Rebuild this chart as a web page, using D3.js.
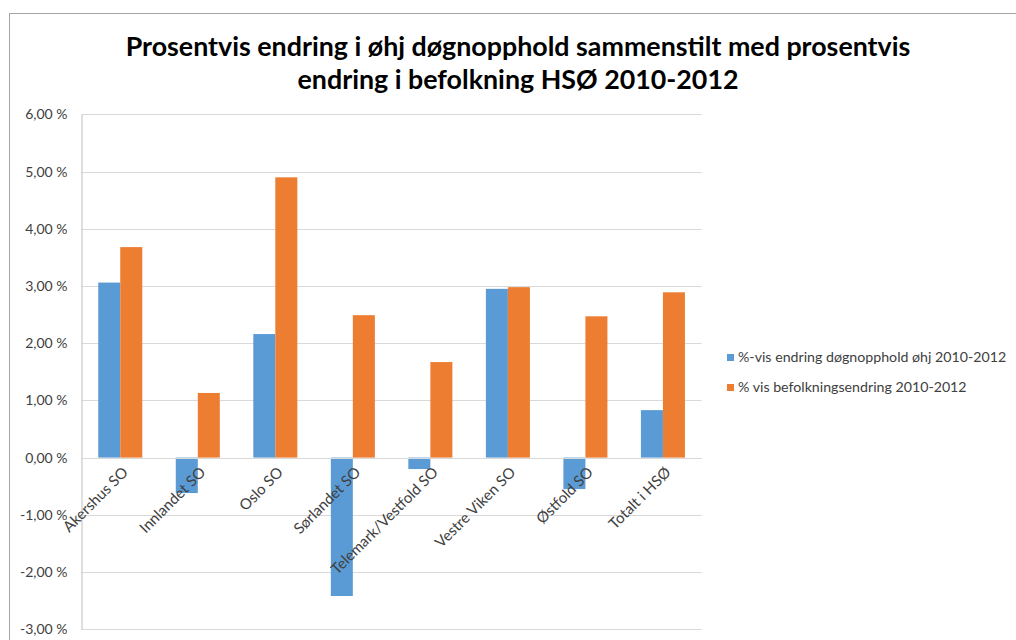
<!DOCTYPE html>
<html>
<head>
<meta charset="utf-8">
<script src="https://cdn.jsdelivr.net/npm/d3@7"></script>
<style>
  body { margin: 0; background: #fff; }
  #chart { width: 1016px; height: 640px; }
</style>
</head>
<body>
<div id="chart"></div>
<script>
var categories = ["Akershus SO", "Innlandet SO", "Oslo SO", "Sørlandet SO",
                  "Telemark/Vestfold SO", "Vestre Viken SO", "Østfold SO", "Totalt i HSØ"];
var seriesNames = ["%-vis endring døgnopphold øhj 2010-2012", "% vis befolkningsendring 2010-2012"];
var stayChange = [3.06, -0.62, 2.16, -2.42, -0.20, 2.95, -0.55, 0.83];
var popChange = [3.68, 1.13, 4.90, 2.49, 1.67, 2.98, 2.47, 2.89];
var yTicks = [-3, -2, -1, 0, 1, 2, 3, 4, 5, 6];
var titleLines = ["Prosentvis endring i øhj døgnopphold sammenstilt med prosentvis",
                  "endring i befolkning HSØ 2010-2012"];

function makeChart() {
  var width = 1016, height = 640;
  var colours = ["#5b9bd5", "#ed7d31"];
  var font = "Lato, 'Open Sans', sans-serif";

  var svg = d3.select("#chart").append("svg")
    .attr("width", width)
    .attr("height", height);

  // chart frame, only top and left edges are visible
  svg.append("rect")
    .attr("x", 9.5).attr("y", 13.5)
    .attr("width", 1100).attr("height", 700)
    .attr("fill", "white")
    .attr("stroke", "#a6a6a6");

  svg.selectAll("text.title")
    .data(titleLines)
    .enter()
    .append("text")
      .attr("class", "title")
      .attr("x", 518)
      .attr("y", function(d, i) { return 56 + i * 33; })
      .attr("text-anchor", "middle")
      .attr("font-family", font)
      .attr("font-weight", "bold")
      .attr("font-size", 26.8)
      .text(function(d) { return d; });

  var left = 81.5, right = 701.7, top = 114.4, bottom = 629.2;

  var y = d3.scaleLinear().domain([-3, 6]).range([bottom, top]);
  var x0 = d3.scaleBand().domain(categories).range([left, right])
    .paddingInner(0.432).paddingOuter(0.216);
  var x1 = d3.scaleBand().domain([0, 1]).range([0, x0.bandwidth()]);

  var fmt = function(v) { return d3.format(".2f")(v).replace(".", ",").replace("−", "-") + " %"; };

  // gridlines
  svg.append("g")
    .selectAll("line")
    .data(yTicks)
    .enter()
    .append("line")
      .attr("x1", left).attr("x2", right)
      .attr("y1", function(d) { return Math.round(y(d)) + 0.5; })
      .attr("y2", function(d) { return Math.round(y(d)) + 0.5; })
      .attr("stroke", "#d9d9d9")
      .attr("stroke-width", 1);

  // y axis
  var yAxis = svg.append("g")
    .attr("transform", "translate(" + left + ",0)")
    .call(d3.axisLeft(y).tickValues(yTicks).tickFormat(fmt).tickSize(0).tickPadding(14));
  yAxis.select(".domain").attr("stroke", "#bfbfbf");
  yAxis.selectAll("text")
    .attr("font-family", font)
    .attr("font-size", 14)
    .attr("fill", "#404040");

  var rows = categories.map(function(c, i) { return { cat: c, vals: [stayChange[i], popChange[i]] }; });

  var groups = svg.append("g")
    .selectAll("g")
    .data(rows)
    .enter()
    .append("g")
      .attr("transform", function(d) { return "translate(" + x0(d.cat) + ",0)"; });

  groups.selectAll("rect")
    .data(function(d) { return d.vals.map(function(v, k) { return { k: k, v: v }; }); })
    .enter()
    .append("rect")
      .attr("x", function(d) { return x1(d.k); })
      .attr("width", x1.bandwidth())
      .attr("y", function(d) { return y(Math.max(0, d.v)); })
      .attr("height", function(d) { return Math.abs(y(d.v) - y(0)); })
      .attr("fill", function(d) { return colours[d.k]; });

  // zero line
  svg.append("line")
    .attr("x1", left).attr("x2", right)
    .attr("y1", Math.round(y(0)) + 0.5).attr("y2", Math.round(y(0)) + 0.5)
    .attr("stroke", "#d9d9d9");

  // category labels, rotated
  svg.append("g")
    .selectAll("text")
    .data(categories)
    .enter()
    .append("text")
      .attr("transform", function(d) {
        return "translate(" + (x0(d) + x0.bandwidth() / 2 + 5) + "," + (y(0) + 12) + ") rotate(-45)";
      })
      .attr("text-anchor", "end")
      .attr("dy", "0.35em")
      .attr("font-family", font)
      .attr("font-size", 15)
      .attr("fill", "#404040")
      .text(function(d) { return d; });

  // legend
  var legend = svg.append("g")
    .selectAll("g")
    .data(seriesNames)
    .enter()
    .append("g")
      .attr("transform", function(d, i) { return "translate(727," + (357.5 + i * 30) + ")"; });
  legend.append("rect")
    .attr("x", 0).attr("y", -3.5)
    .attr("width", 7).attr("height", 7)
    .attr("fill", function(d, i) { return colours[i]; });
  legend.append("text")
    .attr("x", 11)
    .attr("dy", "0.35em")
    .attr("font-family", font)
    .attr("font-size", 14.2)
    .attr("fill", "#404040")
    .text(function(d) { return d; });
}

makeChart();
</script>
</body>
</html>
